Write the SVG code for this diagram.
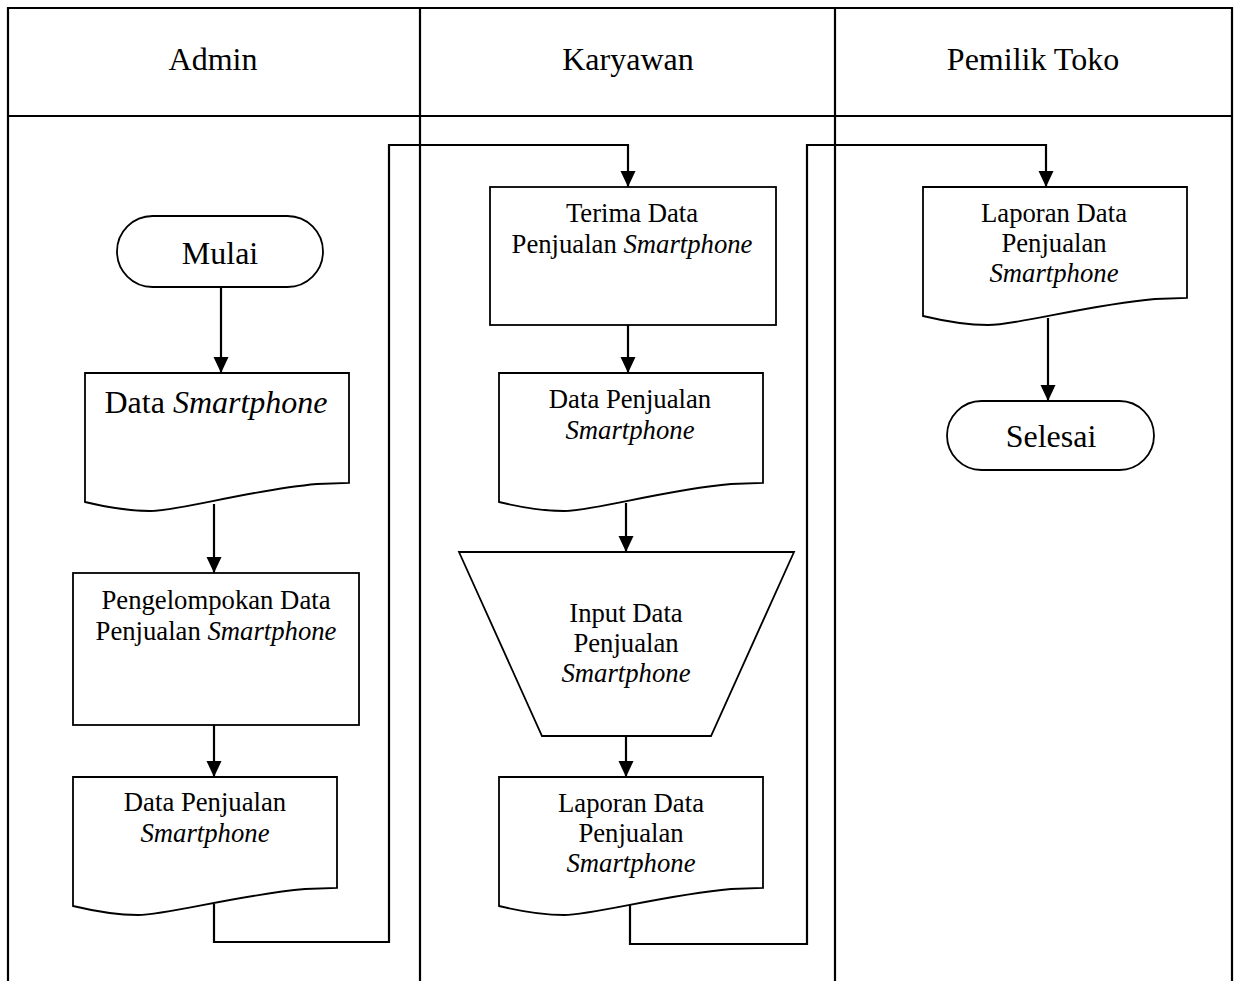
<svg xmlns="http://www.w3.org/2000/svg" width="1240" height="981" viewBox="0 0 1240 981">
<style>
.frame{fill:none;stroke:#000;stroke-width:2.2}
.shape{fill:#fff;stroke:#000;stroke-width:1.8}
.conn{fill:none;stroke:#000;stroke-width:2.2}
.arr{fill:none;stroke:#000;stroke-width:2.2;marker-end:url(#ah)}
text{font-family:"Liberation Serif","Times New Roman",serif;fill:#000;text-anchor:middle}
.big{font-size:32px}
.sm{font-size:26.7px}
.it{font-style:italic}
</style>
<defs>
<marker id="ah" markerUnits="userSpaceOnUse" markerWidth="17" markerHeight="16" refX="16" refY="7.5" orient="auto">
<path d="M0,0 L16,7.5 L0,15 z" fill="#000"/>
</marker>
</defs>
<rect width="1240" height="981" fill="#fff"/>
<g id="swimlanes">
<path class="frame" d="M8,981 V8 H1232 V981"/>
<line class="frame" x1="8" y1="116" x2="1232" y2="116"/>
<line class="frame" x1="420" y1="8" x2="420" y2="981"/>
<line class="frame" x1="835" y1="8" x2="835" y2="981"/>
<text class="big" x="213" y="70">Admin</text>
<text class="big" x="628" y="70">Karyawan</text>
<text class="big" x="1033" y="70">Pemilik Toko</text>
</g>
<g id="connectors">
<line class="arr" x1="221" y1="287" x2="221" y2="373"/>
<line class="arr" x1="214" y1="504" x2="214" y2="573"/>
<line class="arr" x1="214" y1="725" x2="214" y2="777"/>
<path class="arr" d="M214,904 V942 H389 V145 H628 V187"/>
<line class="arr" x1="628" y1="325" x2="628" y2="373"/>
<line class="arr" x1="626" y1="503" x2="626" y2="552"/>
<line class="arr" x1="626" y1="736" x2="626" y2="777"/>
<path class="arr" d="M630,903 V944 H807 V145 H1046 V187"/>
<line class="arr" x1="1048" y1="318" x2="1048" y2="401"/>
</g>
<g id="mulai">
<rect class="shape" x="117" y="216" width="206" height="71" rx="35.5"/>
<text class="big" x="220" y="264">Mulai</text>
</g>
<g id="data-smartphone">
<path class="shape" d="M85,373 H349 V483 L317,484 C249,490 180,511 150,511 C130,511 110,508 85,502 Z"/>
<text class="big" x="216" y="413">Data <tspan class="it">Smartphone</tspan></text>
</g>
<g id="pengelompokan">
<rect class="shape" x="73" y="573" width="286" height="152"/>
<text class="sm" x="216" y="609">Pengelompokan Data</text>
<text class="sm" x="216" y="640">Penjualan <tspan class="it">Smartphone</tspan></text>
</g>
<g id="data-penjualan-admin">
<path class="shape" d="M73,777 H337 V888 L305,889 C237,895 168,915 138,915 C118,915 98,912 73,906 Z"/>
<text class="sm" x="205" y="811">Data Penjualan</text>
<text class="sm it" x="205" y="842">Smartphone</text>
</g>
<g id="terima">
<rect class="shape" x="490" y="187" width="286" height="138"/>
<text class="sm" x="632" y="222">Terima Data</text>
<text class="sm" x="632" y="253">Penjualan <tspan class="it">Smartphone</tspan></text>
</g>
<g id="data-penjualan-karyawan">
<path class="shape" d="M499,373 H763 V483 L731,484 C663,490 594,511 564,511 C544,511 524,508 499,502 Z"/>
<text class="sm" x="630" y="408">Data Penjualan</text>
<text class="sm it" x="630" y="439">Smartphone</text>
</g>
<g id="input">
<path class="shape" d="M459,552 H794 L711,736 H542 Z"/>
<text class="sm" x="626" y="622">Input Data</text>
<text class="sm" x="626" y="652">Penjualan</text>
<text class="sm it" x="626" y="682">Smartphone</text>
</g>
<g id="laporan-karyawan">
<path class="shape" d="M499,777 H763 V888 L731,889 C663,895 594,915 564,915 C544,915 524,912 499,906 Z"/>
<text class="sm" x="631" y="812">Laporan Data</text>
<text class="sm" x="631" y="842">Penjualan</text>
<text class="sm it" x="631" y="872">Smartphone</text>
</g>
<g id="laporan-pemilik">
<path class="shape" d="M923,187 H1187 V298 L1155,299 C1087,305 1018,325 988,325 C968,325 948,322 923,316 Z"/>
<text class="sm" x="1054" y="222">Laporan Data</text>
<text class="sm" x="1054" y="252">Penjualan</text>
<text class="sm it" x="1054" y="282">Smartphone</text>
</g>
<g id="selesai">
<rect class="shape" x="947" y="401" width="207" height="69" rx="34.5"/>
<text class="big" x="1051" y="447">Selesai</text>
</g>
</svg>
